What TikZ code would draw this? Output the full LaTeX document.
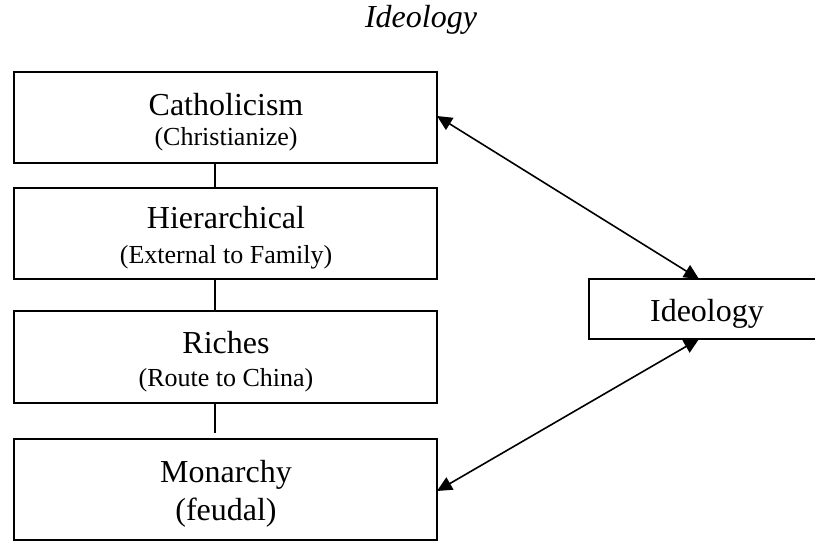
\documentclass[tikz,border=0pt]{standalone}
\usepackage{fontspec}
\setmainfont{Liberation Serif}
\usetikzlibrary{arrows.meta}
\begin{document}
\begin{tikzpicture}[x=1pt,y=-1pt,
  box/.style={draw,line width=1.6pt,minimum width=423pt,inner sep=0pt,outer sep=0pt},
  big/.style={anchor=base,inner sep=0pt,font=\fontsize{32}{38}\selectfont},
  small/.style={anchor=base,inner sep=0pt,font=\fontsize{26}{31}\selectfont},
  link/.style={line width=1.6pt},
  dual/.style={line width=1.6pt,{Triangle[length=15pt,width=14pt]}-{Triangle[length=15pt,width=14pt]}}]
\useasboundingbox (0,0) rectangle (815,541);
\clip (0,0) rectangle (815,541);

% title
\node[big,font=\fontsize{32}{38}\selectfont\itshape] (title) at (421,27) {Ideology};

% stacked boxes
\node[box,minimum height=91pt] (b1) at (225.5,117.5) {};
\node[box,minimum height=91pt] (b2) at (225.5,233.5) {};
\node[box,minimum height=92pt] (b3) at (225.5,357) {};
\node[box,minimum height=101pt] (b4) at (225.5,489.5) {};

\node[big]   (t1) at (226,115) {Catholicism};
\node[small] (s1) at (226,145) {(Christianize)};
\node[big]   (t2) at (226,228) {Hierarchical};
\node[small] (s2) at (226,263) {(External to Family)};
\node[big]   (t3) at (226,353) {Riches};
\node[small] (s3) at (226,386) {(Route to China)};
\node[big]   (t4) at (226,482) {Monarchy};
\node[big]   (s4) at (226,520) {(feudal)};

% right-hand box
\node[box,minimum width=237pt,minimum height=60pt] (ideo) at (707.5,309) {};
\node[big] (ti) at (707,321) {Ideology};

% links between the stacked boxes
\coordinate (cx) at (215,0);
\draw[link] (b1.south -| cx) -- (b2.north -| cx);
\draw[link] (b2.south -| cx) -- (b3.north -| cx);
\draw[link,shorten >=6pt] (b3.south -| cx) -- (b4.north -| cx);

% two-way arrows
\draw[dual] ([yshift=1.5pt]b1.east) -- ([xshift=-8.5pt]ideo.north);
\draw[dual] ([xshift=-8.5pt]ideo.south) -- ([yshift=-1.5pt]b4.east);
\end{tikzpicture}
\end{document}
